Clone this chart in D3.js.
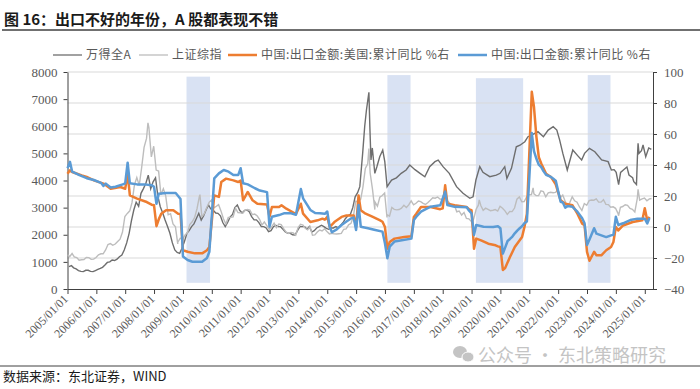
<!DOCTYPE html>
<html>
<head>
<meta charset="utf-8">
<script src="https://cdn.jsdelivr.net/npm/d3@7"></script>
<style>
  body { margin: 0; background: #fff; }
  svg text { font-family: "Liberation Serif", "Times New Roman", serif; }
  .cjk { font-family: "Noto Sans CJK SC", sans-serif; }
</style>
</head>
<body>
<svg id="chart" width="700" height="389"></svg>
<script>
// 万得全A, monthly levels 2005-01 .. 2014-12
const windEarly = [
  822, 860, 780, 740, 680, 650, 640, 690, 690, 650, 640, 680,
  720, 760, 800, 885, 980, 1000, 1070, 1050, 1100, 1190, 1250, 1438,
  1700, 2053, 2500, 2912, 3200, 3050, 3528, 3700, 3900, 4200, 3700, 3950,
  4100, 3400, 3034, 2800, 2544, 2300, 2053, 1700, 1438, 1350, 1316, 1500,
  1750, 2053, 2150, 2298, 2400, 2600, 2790, 2544, 2700, 2912, 3100, 2950,
  2900, 2800, 2790, 2700, 2450, 2298, 2450, 2650, 2750, 3000, 3097, 2900,
  2800, 2900, 2912, 2850, 2667, 2550, 2550, 2450, 2300, 2298, 2250, 2113,
  2150, 2298, 2350, 2298, 2298, 2200, 2100, 2053, 2053, 2000, 1991, 2150,
  2298, 2298, 2298, 2200, 2300, 2100, 2150, 2250, 2298, 2350, 2300, 2237,
  2200, 2250, 2250, 2298, 2250, 2350, 2450, 2600, 2700, 2750, 3000, 3400
]
// 万得全A from 2015 on, irregular dates
const windLateDates = [
  "2015-01-20", "2015-02-17", "2015-03-25", "2015-04-20", "2015-05-12", "2015-06-12", "2015-06-24",
  "2015-07-08", "2015-07-25", "2015-08-26", "2015-09-20", "2015-10-27", "2015-12-04", "2015-12-30",
  "2016-01-28", "2016-02-25", "2016-03-25", "2016-05-25", "2016-07-25", "2016-09-25", "2016-11-10",
  "2017-01-15", "2017-03-20", "2017-05-20", "2017-07-20", "2017-09-25", "2017-11-05", "2018-01-05",
  "2018-03-25", "2018-06-25", "2018-09-15", "2018-12-10", "2019-01-20", "2019-02-25", "2019-04-15",
  "2019-05-25", "2019-08-20", "2019-11-10", "2019-12-28", "2020-02-25", "2020-03-23", "2020-05-20",
  "2020-07-20", "2020-09-05", "2020-11-05", "2020-12-15", "2021-01-30", "2021-04-20", "2021-06-28",
  "2021-08-28", "2021-10-30", "2021-12-15", "2022-01-20", "2022-03-01", "2022-04-26", "2022-07-05",
  "2022-09-10", "2022-10-25", "2022-12-01", "2023-02-01", "2023-04-10", "2023-07-05", "2023-09-25",
  "2023-11-05", "2023-12-10", "2024-01-05", "2024-02-05", "2024-03-01", "2024-04-05", "2024-05-20",
  "2024-06-15", "2024-07-31", "2024-08-15", "2024-09-18", "2024-09-30", "2024-10-08", "2024-10-20",
  "2024-11-20", "2024-12-10", "2025-01-13", "2025-02-20", "2025-03-25"
]
const windLateVals = [
  3550, 3773, 5000, 6000, 6600, 7250, 5980,
  4756, 5200, 4265, 4500, 4877, 5124, 4700,
  3773, 3897, 4018, 4100, 4265, 4387, 4571,
  4400, 4265, 4140, 4510, 4694, 4750, 4510,
  4265, 3773, 3528, 3344, 3400, 4018, 4510,
  4300, 4141, 4200, 4265, 4510, 4080, 4448,
  5245, 5300, 5430, 5615, 5675, 5800, 5615,
  5860, 5985, 5860, 5490, 5000, 4387, 5124,
  4900, 4756, 5000, 5186, 5060, 4756, 4694,
  4387, 4400, 4300, 3850, 4300, 4387, 4500,
  4202, 4100, 3957, 3850, 4877, 5370, 5000,
  5100, 5309, 4877, 5200, 5150
]

// 上证综指, month-end closes 2005-01 .. 2025-03
const shMonthly = [
  1191, 1306, 1181, 1159, 1060, 1080, 1083, 1162, 1155, 1092, 1099, 1161,
  1258, 1299, 1298, 1440, 1641, 1672, 1612, 1658, 1752, 1837, 2099, 2675,
  2786, 2881, 3183, 3841, 4109, 3821, 4471, 5219, 5552, 5954, 4871, 5262,
  4383, 4348, 3473, 3693, 3433, 2736, 2776, 2397, 2293, 1729, 1871, 1821,
  1991, 2082, 2374, 2477, 2632, 2959, 3412, 2667, 2779, 2996, 3195, 3277,
  2989, 3051, 3110, 2870, 2592, 2398, 2638, 2639, 2656, 2979, 2820, 2808,
  2791, 2905, 2928, 2911, 2743, 2762, 2701, 2568, 2359, 2468, 2333, 2199,
  2292, 2428, 2262, 2396, 2373, 2225, 2103, 2047, 2086, 2069, 1980, 2269,
  2385, 2359, 2237, 2178, 2300, 1979, 1994, 2098, 2175, 2141, 2220, 2116,
  2033, 2056, 2033, 2026, 2039, 2048, 2202, 2217, 2364, 2420, 2683, 3235,
  3210, 3310, 3748, 4442, 4612, 4277, 3664, 3206, 3053, 3383, 3445, 3539,
  2738, 2688, 3004, 2938, 2917, 2930, 2979, 3085, 3005, 3100, 3250, 3104,
  3159, 3242, 3223, 3155, 3117, 3192, 3273, 3361, 3349, 3393, 3317, 3307,
  3481, 3259, 3169, 3082, 3095, 2847, 2876, 2725, 2821, 2603, 2588, 2494,
  2585, 2941, 3091, 3078, 2899, 2979, 2933, 2886, 2905, 2929, 2872, 3050,
  2977, 2880, 2750, 2860, 2852, 2985, 3310, 3396, 3218, 3225, 3392, 3473,
  3483, 3509, 3442, 3447, 3615, 3591, 3397, 3544, 3568, 3547, 3564, 3640,
  3361, 3462, 3252, 3047, 3186, 3399, 3253, 3202, 3024, 2893, 3151, 3089,
  3256, 3280, 3273, 3323, 3205, 3202, 3291, 3120, 3110, 3018, 3030, 2975,
  2789, 3015, 3041, 3105, 3087, 2967, 2939, 2842, 3336, 3279, 3326, 3352,
  3251, 3321, 3336
]
// intra-month highs and lows of 上证综指
const shExtraDates = ["2005-01-04", "2007-10-16", "2008-10-27", "2009-08-04", "2015-06-12", "2015-08-26",
  "2016-01-27", "2018-01-24", "2019-01-03", "2019-04-08", "2021-02-18", "2024-02-05", "2024-10-08"]
const shExtraVals = [1260, 6124, 1664, 3478, 5178, 2927, 2638, 3587, 2464, 3288, 3731, 2702, 3674]

// 中国:出口金额:美国:累计同比 (%)
const usDates = [
  "2005-01", "2005-02", "2005-03", "2005-07", "2005-09", "2005-12", "2006-04", "2006-07", "2006-11",
  "2007-01", "2007-02", "2007-03", "2007-06", "2007-10", "2007-12",
  "2008-01", "2008-02", "2008-03", "2008-04", "2008-06", "2008-09", "2008-11", "2008-12",
  "2009-01", "2009-03", "2009-06", "2009-09", "2009-11", "2009-12",
  "2010-02", "2010-04", "2010-05", "2010-07", "2010-10", "2010-12",
  "2011-01", "2011-02", "2011-04", "2011-06", "2011-08", "2011-12",
  "2012-01", "2012-02", "2012-05", "2012-06", "2012-08", "2012-12",
  "2013-02", "2013-03", "2013-06", "2013-09", "2013-11", "2013-12",
  "2014-01", "2014-02", "2014-04", "2014-07", "2014-09", "2014-12",
  "2015-01", "2015-02", "2015-03", "2015-05", "2015-08", "2015-11", "2015-12",
  "2016-01", "2016-02", "2016-03", "2016-05", "2016-09", "2016-12",
  "2017-01", "2017-02", "2017-04", "2017-08", "2017-12",
  "2018-01", "2018-02", "2018-03", "2018-06", "2018-11", "2018-12",
  "2019-01", "2019-02", "2019-03", "2019-05", "2019-08", "2019-11", "2019-12",
  "2020-01", "2020-02", "2020-03", "2020-05", "2020-07", "2020-10", "2020-11", "2020-12",
  "2021-02", "2021-03", "2021-04", "2021-05", "2021-06", "2021-08", "2021-10", "2021-12",
  "2022-02", "2022-04", "2022-07", "2022-09", "2022-11", "2022-12",
  "2023-01", "2023-02", "2023-04", "2023-05", "2023-07", "2023-09", "2023-11", "2023-12",
  "2024-01", "2024-02", "2024-04", "2024-08", "2024-12", "2025-01", "2025-02", "2025-03"
]
const usVals = [
  34.4, 36.6, 35.5, 33.3, 32.3, 30.1, 28, 24.7, 25.8,
  24.7, 34.4, 20.4, 18.3, 16.1, 14.4,
  14, 0.5, 5, 8.6, 10.8, 10.8, 8.6, 8.4,
  -15, -16, -17, -17, -15, -12.9,
  20.4, 19.4, 29, 31.2, 30.1, 29,
  30, 17.2, 22.6, 17.2, 15, 14.5,
  6.6, 12.9, 12.9, 14, 11.8, 8.4,
  15, 8.6, 3.2, 4.3, 5.4, 4.7,
  6.5, 0, 3.2, 6.5, 7.5, 7.5,
  0, 20.4, 10.8, 8.6, 6.5, 4.3, 3.4,
  0, -14, -9.7, -7.5, -6.5, -6,
  6.5, 8.6, 12.9, 12.9, 11.5,
  12, 26.9, 15, 14, 12.9, 11.3,
  10.8, -14, -7.5, -8.6, -10.8, -11.8, -12.5,
  -12.9, -27.7, -26.5, -19.4, -12.9, -6.5, 0.2, 8.4,
  87.3, 77.4, 58, 45, 41, 34.4, 32.3, 27.5,
  17.2, 15, 14, 8.6, 2.2, 1.2,
  -16, -21.8, -16, -18.3, -18.3, -15, -12.9, -9.7,
  0, -2.2, 1, 3.2, 4.3, 12.1, 4.3, 6.5
]

// 中国:出口金额:累计同比 (%)
const allDates = [
  "2005-01", "2005-02", "2005-03", "2005-06", "2005-09", "2005-12",
  "2006-03", "2006-04", "2006-05", "2006-07", "2006-09", "2006-12",
  "2007-01", "2007-02", "2007-03", "2007-06", "2007-09", "2007-12",
  "2008-01", "2008-02", "2008-03", "2008-06", "2008-10", "2008-11", "2008-12",
  "2009-01", "2009-03", "2009-05", "2009-09", "2009-11", "2009-12",
  "2010-02", "2010-04", "2010-06", "2010-08", "2010-10", "2010-12",
  "2011-01", "2011-02", "2011-04", "2011-07", "2011-09", "2011-12",
  "2012-01", "2012-02", "2012-05", "2012-07", "2012-10", "2012-12",
  "2013-02", "2013-03", "2013-06", "2013-08", "2013-10", "2013-12",
  "2014-01", "2014-02", "2014-03", "2014-05", "2014-07", "2014-09", "2014-11", "2014-12",
  "2015-01", "2015-02", "2015-03", "2015-06", "2015-09", "2015-12",
  "2016-01", "2016-02", "2016-03", "2016-05", "2016-08", "2016-12",
  "2017-01", "2017-02", "2017-04", "2017-08", "2017-12",
  "2018-02", "2018-03", "2018-06", "2018-11", "2018-12",
  "2019-01", "2019-02", "2019-03", "2019-06", "2019-10", "2019-12",
  "2020-01", "2020-02", "2020-03", "2020-04", "2020-05", "2020-06", "2020-07", "2020-08",
  "2020-09", "2020-10", "2020-11", "2020-12",
  "2021-02", "2021-03", "2021-04", "2021-05", "2021-06", "2021-07", "2021-08", "2021-09",
  "2021-10", "2021-11", "2021-12",
  "2022-02", "2022-03", "2022-04", "2022-05", "2022-07", "2022-09", "2022-11", "2022-12",
  "2023-01", "2023-02", "2023-04", "2023-05", "2023-07", "2023-09", "2023-11", "2023-12",
  "2024-01", "2024-02", "2024-04", "2024-07", "2024-10", "2025-01", "2025-02", "2025-03"
]
const allVals = [
  38, 42, 35.7, 33.5, 31.5, 30.3,
  28.5, 26.5, 28, 25.5, 26, 27.5,
  28.2, 41.5, 28.2, 27.5, 27.5, 27,
  26, 15, 21.4, 21.9, 21.9, 20, 18,
  -19, -21.3, -22.4, -22.4, -20, -16,
  31.4, 34.6, 36.8, 35.7, 33.5, 33.5,
  37.9, 28.2, 27.5, 25, 23.5, 22.5,
  0.2, 6.6, 7.7, 8.8, 8.8, 7.9,
  24.5, 18.5, 11, 9, 8.8, 8.5,
  10, 0, -3.4, -1.5, 1.3, 3.5, 5.6, 6.1,
  -1.9, 14.2, 0.2, -0.8, -1.9, -3,
  -10.5, -20.2, -12.7, -9.4, -8.5, -7.5,
  4.5, 6.6, 9.9, 13.1, 14,
  22.8, 14.2, 13, 12.7, 10.5,
  8.8, -5.2, 1.3, 0.2, 0, 0.5,
  -0.8, -17.2, -13.3, -9, -7.7, -6.2, -4.1, -2.3,
  -0.8, 0.5, 2.5, 3.6,
  60.6, 49, 44, 40.2, 38.6, 35.9, 33.7, 33,
  32.3, 31.1, 29.9,
  16.3, 15.8, 12.5, 13.5, 13, 9.9, 5.6, 2.4,
  -11.6, -8, -0.8, -4.3, -5.4, -6.5, -5.4, -5,
  6.6, 1.3, 2.4, 4.5, 5.4, 5.4, 2.3, 5.8
]

// shaded periods (weak export years), on the right axis
const bandStart = ["2009-02-15", "2016-02-01", "2019-02-25", "2023-01-10"]
const bandEnd = ["2009-12-10", "2016-11-20", "2020-10-15", "2023-10-25"]
const bandTop = [97, 98, 96, 98]
const bandBottom = -36

const leftTicks = [0, 1000, 2000, 3000, 4000, 5000, 6000, 7000, 8000]
const rightTicks = [-40, -20, 0, 20, 40, 60, 80, 100]
const legendNames = ["万得全A", "上证综指", "中国:出口金额:美国:累计同比 %右", "中国:出口金额:累计同比 %右"]
const colors = ["#6e6e6e", "#bdbdbd", "#ed7d31", "#5b9bd5"]

const parseDay = d3.timeParse("%Y-%m-%d")
const parseMonth = d3.timeParse("%Y-%m")

const windSeries = windEarly.map((v, i) => ({ date: new Date(2005, i, 20), v }))
  .concat(windLateDates.map((d, i) => ({ date: parseDay(d), v: windLateVals[i] })))
const shSeries = shMonthly.map((v, i) => ({ date: new Date(2005, i, 28), v }))
  .concat(shExtraDates.map((d, i) => ({ date: parseDay(d), v: shExtraVals[i] })))
  .sort((a, b) => a.date - b.date)
const usSeries = usDates.map((d, i) => ({ date: parseMonth(d), v: usVals[i] }))
const allSeries = allDates.map((d, i) => ({ date: parseMonth(d), v: allVals[i] }))

const plot = { left: 67.5, right: 653, top: 72, bottom: 289 }
const svg = d3.select("#chart")

const x = d3.scaleTime()
  .domain([new Date(2005, 0, 1), new Date(2025, 3, 15)])
  .range([plot.left, plot.right])
const yL = d3.scaleLinear().domain([0, 8000]).range([plot.bottom, plot.top])
const yR = d3.scaleLinear().domain([-40, 100]).range([plot.bottom, plot.top])

// Title and rule
svg.append("text")
  .attr("class", "cjk")
  .attr("x", 4).attr("y", 25)
  .attr("font-size", "15px").attr("font-weight", "bold").attr("fill", "#1a1a1a")
  .text("图 16：出口不好的年份，A 股都表现不错")
svg.append("line")
  .attr("x1", 2).attr("x2", 700).attr("y1", 30).attr("y2", 30)
  .attr("stroke", "#404040").attr("stroke-width", 1.5)

// Shaded bands
svg.append("g").selectAll("rect")
  .data(bandStart)
  .join("rect")
  .attr("x", (d) => x(parseDay(d)))
  .attr("width", (d, i) => x(parseDay(bandEnd[i])) - x(parseDay(d)))
  .attr("y", (d, i) => yR(bandTop[i]))
  .attr("height", (d, i) => yR(bandBottom) - yR(bandTop[i]))
  .attr("fill", "#d9e2f3")

// Gridlines follow the right axis
svg.append("g").selectAll("line")
  .data(rightTicks.filter((t) => t > -40))
  .join("line")
  .attr("x1", plot.left).attr("x2", plot.right)
  .attr("y1", (d) => yR(d)).attr("y2", (d) => yR(d))
  .attr("stroke", "#d9d9d9").attr("stroke-width", 1)

// Axes
const styleAxis = (g) => {
  g.select(".domain").attr("stroke", "#404040")
  g.selectAll(".tick line").attr("stroke", "#404040")
  g.selectAll(".tick text").attr("fill", "#595959").attr("font-size", "13px")
    .attr("font-family", "Liberation Serif, Times New Roman, serif")
}

svg.append("g")
  .attr("transform", `translate(${plot.left},0)`)
  .call(d3.axisLeft(yL).tickValues(leftTicks).tickFormat(d3.format("d"))
    .tickSize(4).tickSizeOuter(0).tickPadding(6))
  .call(styleAxis)

svg.append("g")
  .attr("transform", `translate(${plot.right},0)`)
  .call(d3.axisRight(yR).tickValues(rightTicks).tickFormat(d3.format("d"))
    .tickSize(4).tickSizeOuter(0).tickPadding(7))
  .call(styleAxis)

const xAxis = svg.append("g")
  .attr("transform", `translate(0,${plot.bottom})`)
  .call(d3.axisBottom(x).ticks(d3.timeYear.every(1)).tickFormat(d3.timeFormat("%Y/%m/%d"))
    .tickSize(5).tickSizeOuter(0))
  .call(styleAxis)
xAxis.selectAll(".tick text")
  .attr("font-size", "12px")
  .attr("text-anchor", "end")
  .attr("x", -7).attr("y", 4).attr("dy", "0.35em")
  .attr("transform", "rotate(-45)")

// Lines
const lineL = d3.line().x((d) => x(d.date)).y((d) => yL(d.v))
const lineR = d3.line().x((d) => x(d.date)).y((d) => yR(d.v))

svg.append("path").datum(windSeries).attr("d", lineL)
  .attr("fill", "none").attr("stroke", colors[0]).attr("stroke-width", 1.4)
svg.append("path").datum(shSeries).attr("d", lineL)
  .attr("fill", "none").attr("stroke", colors[1]).attr("stroke-width", 1.4)
svg.append("path").datum(usSeries).attr("d", lineR)
  .attr("fill", "none").attr("stroke", colors[2]).attr("stroke-width", 2.5).attr("stroke-linejoin", "round")
svg.append("path").datum(allSeries).attr("d", lineR)
  .attr("fill", "none").attr("stroke", colors[3]).attr("stroke-width", 2.5).attr("stroke-linejoin", "round")

// Legend
const legendX = [53, 139, 228, 458]
const legend = svg.append("g").selectAll("g")
  .data(legendNames)
  .join("g")
  .attr("transform", (d, i) => `translate(${legendX[i]},55)`)
legend.append("line")
  .attr("x1", 0).attr("x2", 29).attr("y1", 0).attr("y2", 0)
  .attr("stroke", (d, i) => colors[i])
  .attr("stroke-width", (d, i) => (i < 2 ? 1.3 : 2.5))
legend.append("text")
  .attr("class", "cjk")
  .attr("x", 33).attr("y", 0).attr("dy", "0.35em")
  .attr("font-size", "12px").attr("fill", "#595959").attr("letter-spacing", "0.5px")
  .text((d) => d)

// Footer
svg.append("line")
  .attr("x1", 0).attr("x2", 700).attr("y1", 366).attr("y2", 366)
  .attr("stroke", "#404040").attr("stroke-width", 1)
svg.append("text")
  .attr("class", "cjk")
  .attr("x", 3).attr("y", 381)
  .attr("font-size", "13px").attr("fill", "#1a1a1a")
  .text("数据来源：东北证券，WIND")

const mark = svg.append("g").attr("fill", "#c4c4c4")
mark.append("ellipse").attr("cx", 460).attr("cy", 352).attr("rx", 7).attr("ry", 6)
mark.append("ellipse").attr("cx", 468).attr("cy", 357).attr("rx", 6).attr("ry", 5).attr("stroke", "#fff")
mark.append("text")
  .attr("class", "cjk")
  .attr("x", 478).attr("y", 362)
  .attr("font-size", "18px").attr("fill", "#c4c4c4")
  .text("公众号 · 东北策略研究")
</script>
</body>
</html>
